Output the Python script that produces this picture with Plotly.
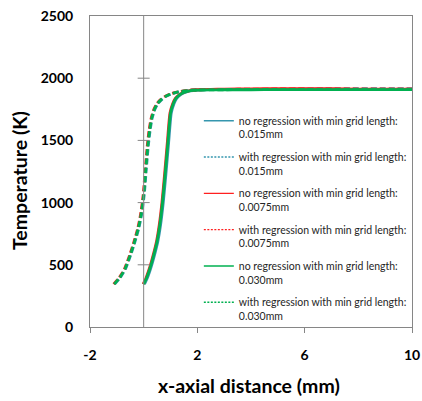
import plotly.graph_objects as go

# ---- data ----
series_names = [
    "no regression with min grid length:<br>0.015mm",
    "with regression with min grid length:<br>0.015mm",
    "no regression with min grid length:<br>0.0075mm",
    "with regression with min grid length:<br>0.0075mm",
    "no regression with min grid length:<br>0.030mm",
    "with regression with min grid length:<br>0.030mm",
]
series_colors = ["#3596AE", "#3596AE", "#FF2020", "#FF2020", "#00B050", "#00B050"]
series_dash = ["solid", "dash", "solid", "dash", "solid", "dash"]

# no regression (right group)
x_nr_015 = [0.03, 0.13, 0.23, 0.33, 0.43, 0.53, 0.63, 0.73, 0.83, 0.93, 1.03, 1.13, 1.23, 1.38, 1.53, 1.73, 2.03, 2.5, 3, 4, 5, 6, 7, 8, 9, 10]
T_nr_015 = [345, 390, 450, 520, 600, 690, 820, 1000, 1230, 1480, 1720, 1795, 1838, 1868, 1885, 1898, 1905, 1908, 1909, 1910, 1910, 1911, 1911, 1910, 1910, 1910]
x_nr_0075 = [-0.02, 0.08, 0.18, 0.28, 0.38, 0.48, 0.58, 0.68, 0.78, 0.88, 0.98, 1.08, 1.18, 1.33, 1.48, 1.68, 1.98, 2.5, 3, 4, 5, 6, 7, 8, 9, 10]
T_nr_0075 = [345, 390, 450, 520, 600, 690, 820, 1000, 1230, 1480, 1720, 1795, 1838, 1868, 1885, 1898, 1907, 1910, 1912, 1914, 1916, 1916, 1915, 1912, 1911, 1911]
x_nr_030 = [0.00, 0.10, 0.20, 0.30, 0.40, 0.50, 0.60, 0.70, 0.80, 0.90, 1.00, 1.10, 1.20, 1.35, 1.50, 1.70, 2.00, 2.5, 3, 4, 5, 6, 7, 8, 9, 10]
T_nr_030 = [345, 390, 450, 520, 600, 690, 820, 1000, 1230, 1480, 1720, 1795, 1838, 1868, 1885, 1898, 1904, 1906, 1907, 1907, 1908, 1908, 1908, 1908, 1908, 1908]

# with regression (left group)
x_wr_015 = [-1.08, -0.88, -0.68, -0.48, -0.33, -0.18, -0.08, 0.02, 0.10, 0.17, 0.24, 0.32, 0.42, 0.52, 0.67, 0.82, 1.02, 1.32, 1.82, 2.5, 3, 4, 5, 6, 7, 8, 9, 10]
T_wr_015 = [345, 395, 465, 580, 680, 795, 900, 1060, 1270, 1450, 1580, 1680, 1750, 1792, 1828, 1852, 1872, 1891, 1905, 1908, 1909, 1910, 1912, 1914, 1916, 1917, 1917, 1917]
x_wr_0075 = [-1.12, -0.92, -0.72, -0.52, -0.37, -0.22, -0.12, -0.02, 0.06, 0.13, 0.20, 0.28, 0.38, 0.48, 0.63, 0.78, 0.98, 1.28, 1.78, 2.5, 3, 4, 5, 6, 7, 8, 9, 10]
T_wr_0075 = [345, 395, 465, 580, 680, 795, 900, 1060, 1270, 1450, 1580, 1680, 1750, 1792, 1828, 1852, 1872, 1891, 1905, 1908, 1910, 1912, 1913, 1913, 1912, 1911, 1911, 1911]
x_wr_030 = [-1.10, -0.90, -0.70, -0.50, -0.35, -0.20, -0.10, 0.00, 0.08, 0.15, 0.22, 0.30, 0.40, 0.50, 0.65, 0.80, 1.00, 1.30, 1.80, 2.5, 3, 4, 5, 6, 7, 8, 9, 10]
T_wr_030 = [345, 395, 465, 580, 680, 795, 900, 1060, 1270, 1450, 1580, 1680, 1750, 1792, 1828, 1852, 1872, 1891, 1904, 1906, 1907, 1908, 1908, 1908, 1908, 1908, 1908, 1908]

series_x = [x_nr_015, x_wr_015, x_nr_0075, x_wr_0075, x_nr_030, x_wr_030]
series_T = [T_nr_015, T_wr_015, T_nr_0075, T_wr_0075, T_nr_030, T_wr_030]

x_ticks = [-2, 2, 6, 10]
y_ticks = [0, 500, 1000, 1500, 2000, 2500]
cross_ticks = [500, 1000, 1500, 2000]
x_title = "x-axial distance (mm)"
y_title = "Temperature (K)"

GRAY = "#868686"
FONT = "Lato"

fig = go.Figure()
for name, xs, ts, col, dash in zip(series_names, series_x, series_T, series_colors, series_dash):
    fig.add_trace(go.Scatter(
        x=xs, y=ts, mode="lines", showlegend=False,
        line=dict(color=col, width=2.8, dash=("6px,3px" if dash == "dash" else "solid"), shape="spline", smoothing=0.6),
        hoverinfo="skip",
    ))
for i, (name, col, dash) in enumerate(zip(series_names, series_colors, series_dash)):
    fig.add_trace(go.Scatter(
        x=[None], y=[None], mode="lines", name=name, legendgroup=f"g{i}",
        line=dict(color=col, width=1.4, dash=("2px,1.5px" if dash == "dash" else "solid")),
    ))

# vertical axis line at x = 0 with cross tick marks
fig.add_shape(type="line", xref="x", yref="y", x0=0, x1=0, y0=0, y1=2500,
              line=dict(color=GRAY, width=1))
for yt in cross_ticks:
    fig.add_shape(type="line", xref="x", yref="y", xsizemode="pixel", xanchor=0,
                  x0=-6, x1=6, y0=yt, y1=yt, line=dict(color=GRAY, width=1))

# axis titles
fig.add_annotation(text=f"<b>{x_title}</b>", xref="paper", yref="paper", x=0.495, y=-0.1865,
                   xanchor="center", yanchor="middle", showarrow=False,
                   font=dict(size=19.5, family=FONT, color="#000000"))
fig.add_annotation(text=f"<b>{y_title}</b>", xref="paper", yref="paper", x=-0.2174, y=0.4727,
                   xanchor="center", yanchor="middle", showarrow=False, textangle=-90,
                   font=dict(size=19.5, family=FONT, color="#000000"))

fig.update_layout(
    width=422, height=401,
    margin=dict(l=90, r=10, t=16, b=74, autoexpand=False),
    paper_bgcolor="white", plot_bgcolor="white",
    font=dict(family=FONT, color="#000000"),
    legend=dict(
        x=0.338, y=0.706, xanchor="left", yanchor="top",
        bgcolor="rgba(0,0,0,0)", font=dict(size=10.5, color="#262626", family=FONT),
        traceorder="grouped", tracegroupgap=6, valign="top", itemwidth=30,
    ),
    xaxis=dict(
        range=[-2, 10], tickvals=x_ticks, ticktext=[str(v) for v in x_ticks],
        showgrid=False, zeroline=False, showline=True, linecolor=GRAY, linewidth=1, mirror=True,
        ticks="outside", ticklen=5, tickcolor=GRAY, ticklabelstandoff=10,
        tickfont=dict(size=14, family=FONT, color="#000000", weight="bold"),
        automargin=False,
    ),
    yaxis=dict(
        range=[0, 2500], tickvals=y_ticks, ticktext=[str(v) for v in y_ticks],
        showgrid=False, zeroline=False, showline=True, linecolor=GRAY, linewidth=1, mirror=True,
        ticks="", ticklabelstandoff=13,
        tickfont=dict(size=14, family=FONT, color="#000000", weight="bold"),
        automargin=False,
    ),
)

fig.write_html("out.html")
